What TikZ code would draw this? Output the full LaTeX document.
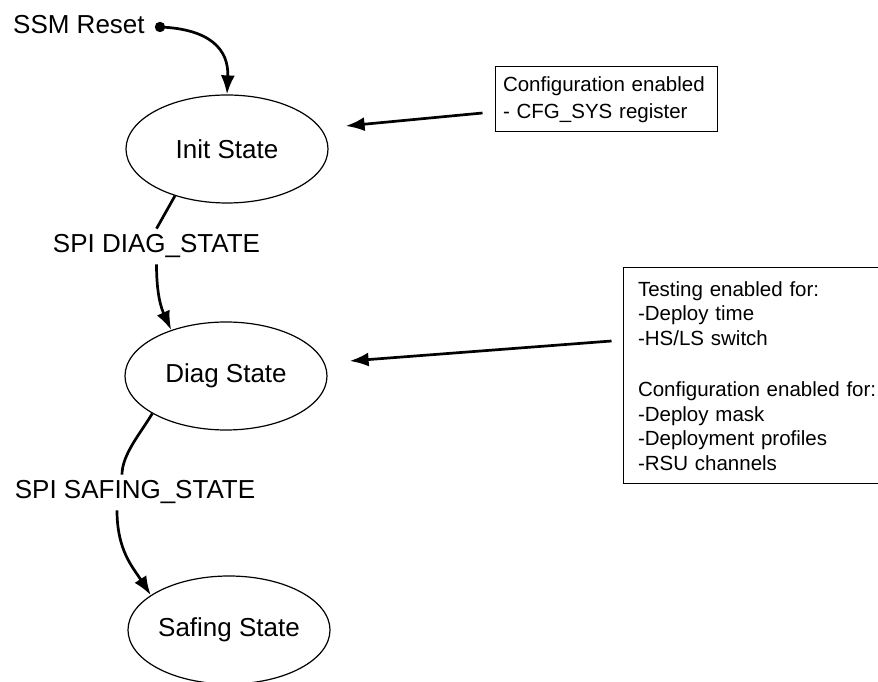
\documentclass[tikz,border=0pt]{standalone}
\usepackage{fontspec}
\setmainfont{Liberation Sans}
\usetikzlibrary{shapes.geometric,arrows.meta}
\begin{document}
\begin{tikzpicture}[x=1pt,y=1pt,
  statenode/.style={ellipse,draw,line width=1.2pt,minimum width=202pt,minimum height=108pt,inner sep=0pt,font=\fontsize{26}{31}\selectfont},
  lbl/.style={inner sep=6pt,font=\fontsize{26}{31}\selectfont},
  notebox/.style={rectangle,draw,line width=1pt,align=left,font=\fontsize{20.5}{24.5}\selectfont},
  arr/.style={line width=2.7pt,-{Latex[length=19pt,width=14pt]}},
  plain/.style={line width=2.7pt}]
\useasboundingbox (0,0) rectangle (878,682);
% states
\node[statenode] (init) at (227,533) {Init State};
\node[statenode] (diag) at (226,306) {Diag State};
\node[statenode] (safing) at (229,52) {Safing State};
% reset
\node[lbl,inner sep=0pt,anchor=base west] (reset) at (13,648) {SSM Reset};
\coordinate (dot) at (160,655);
\fill (dot) circle (5.2pt);
\draw[arr] (dot) .. controls +(50,-2) and +(2,45) .. (init.north);
% transition labels
\node[lbl,anchor=base] (l1) at (156.5,429) {SPI DIAG\_STATE};
\node[lbl,anchor=base] (l2) at (135,183) {SPI SAFING\_STATE};
\draw[plain] (init.222) -- (l1.north);
\draw[arr] (l1.south) .. controls +(0,-30) and +(-10,22) .. (diag.140);
\draw[plain] (diag.207) .. controls +(-12,-20) and +(0,20) .. ([xshift=-13pt]l2.north);
\draw[arr] ([xshift=-18pt]l2.south) .. controls +(0,-40) and +(-18,28) .. (safing.156);
% note boxes
\node[notebox,minimum width=222pt,minimum height=65pt,text width=206pt,inner xsep=8pt] (box1) at (606,582.5)
  {Configuration enabled\\[2pt]- CFG\_SYS register};
\node[notebox,minimum width=280pt,minimum height=216pt,text width=250pt,inner xsep=15pt] (box2) at (763,306)
  {Testing enabled for:\\-Deploy time\\-HS/LS switch\\[27pt]Configuration enabled for:\\-Deploy mask\\-Deployment profiles\\-RSU channels};
\draw[arr] ([shift={(-12,-13.5)}]box1.west) -- ([shift={(17,23)}]init.east);
\draw[arr] ([shift={(-11,35)}]box2.west) -- ([shift={(22,15)}]diag.east);
\end{tikzpicture}
\end{document}
